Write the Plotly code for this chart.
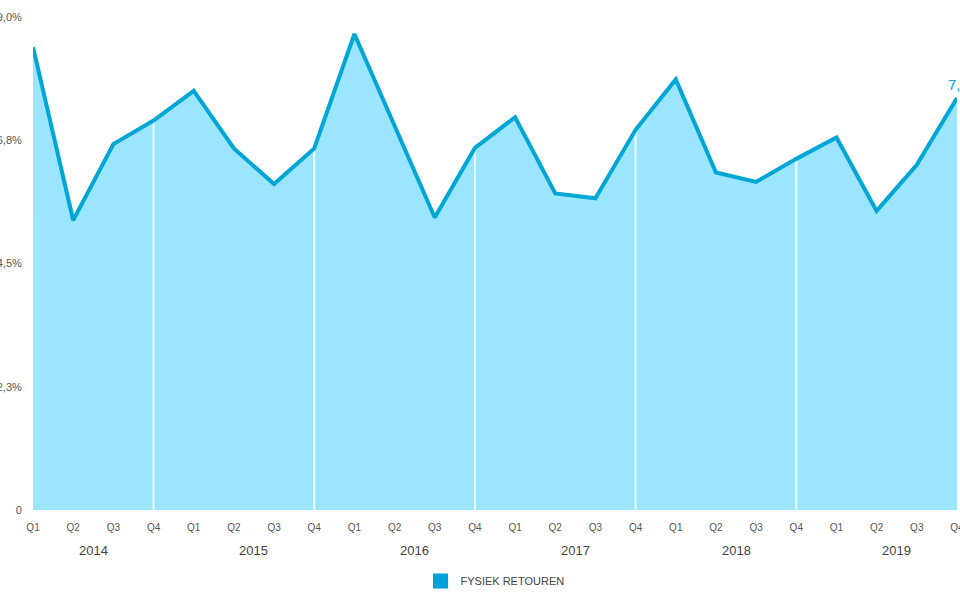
import plotly.graph_objects as go

years = ["2014", "2015", "2016", "2017", "2018", "2019"]
quarters = ["Q1", "Q2", "Q3", "Q4"]
values = [8.45, 5.29, 6.68, 7.11, 7.65, 6.60, 5.95, 6.60,
          8.69, 7.02, 5.34, 6.61, 7.17, 5.78, 5.69, 6.94,
          7.86, 6.16, 5.99, 6.41, 6.80, 5.46, 6.30, 7.52]
y_tickvals = [0, 2.25, 4.5, 6.75, 9.0]
y_ticktext = ["0", "2,3%", "4,5%", "6,8%", "9,0%"]
series_name = "FYSIEK RETOUREN"
last_label = "7,5%"

LINE = "#00A6D6"
FILL = "#9CE5FF"
FONT = "Liberation Sans"

x = list(range(len(values)))
qlabels = [quarters[i % 4] for i in x]

# divider lines at Q4 positions (except the final point)
dx, dy = [], []
for i in x:
    if qlabels[i] == "Q4" and i != x[-1]:
        dx += [i, i, None]
        dy += [0, values[i], None]

fig = go.Figure()
fig.add_trace(go.Scatter(x=x, y=values, mode="lines", fill="tozeroy",
                         fillcolor=FILL, line=dict(width=0, color=FILL),
                         showlegend=False, hoverinfo="skip"))
fig.add_trace(go.Scatter(x=dx, y=dy, mode="lines",
                         line=dict(color="rgba(255,255,255,0.8)", width=2),
                         showlegend=False, hoverinfo="skip"))
fig.add_trace(go.Scatter(x=x, y=values, mode="lines",
                         line=dict(color=LINE, width=4),
                         showlegend=False))
fig.add_trace(go.Scatter(x=[None], y=[None], mode="markers",
                         marker=dict(symbol="square", size=15, color="#00A3D9"),
                         name=series_name))

annotations = []
for k, yr in enumerate(years):
    idx = [i for i in x if i // 4 == k]
    annotations.append(dict(x=sum(idx) / len(idx), y=0, xref="x", yref="paper",
                            text=yr, showarrow=False, yanchor="middle",
                            yshift=-40, font=dict(family=FONT, size=13, color="#444444")))
annotations.append(dict(x=x[-1], y=values[-1], xref="x", yref="y", text=last_label,
                        showarrow=False, yanchor="middle", xanchor="left", yshift=14, xshift=-11,
                        font=dict(family=FONT, size=15, color=LINE)))

fig.update_layout(
    width=960, height=600,
    margin=dict(l=33, r=3, t=17, b=90, autoexpand=False),
    plot_bgcolor="white", paper_bgcolor="white",
    font=dict(family=FONT, color="#555555"),
    xaxis=dict(range=[-0.001, len(values) - 1 + 0.001], tickvals=x, ticktext=qlabels,
               showgrid=False, zeroline=False, showline=False, automargin=False,
               ticks="outside", ticklen=8, tickcolor="rgba(0,0,0,0)",
               ticklabeloverflow="allow",
               tickfont=dict(family=FONT, size=10, color="#555555")),
    yaxis=dict(range=[0, 9], tickvals=y_tickvals, ticktext=y_ticktext,
               showgrid=False, zeroline=False, showline=False, automargin=False,
               ticks="outside", ticklen=8, tickcolor="rgba(0,0,0,0)",
               ticklabeloverflow="allow",
               tickfont=dict(family=FONT, size=11, color="#555555")),
    legend=dict(orientation="h", x=0.5, xanchor="center", y=-0.144, yanchor="middle",
                font=dict(family=FONT, size=11, color="#444444")),
    annotations=annotations,
)

fig.write_html("out.html", config={"displayModeBar": False},
               post_script="document.body.style.margin='0';document.body.style.overflow='hidden';")
